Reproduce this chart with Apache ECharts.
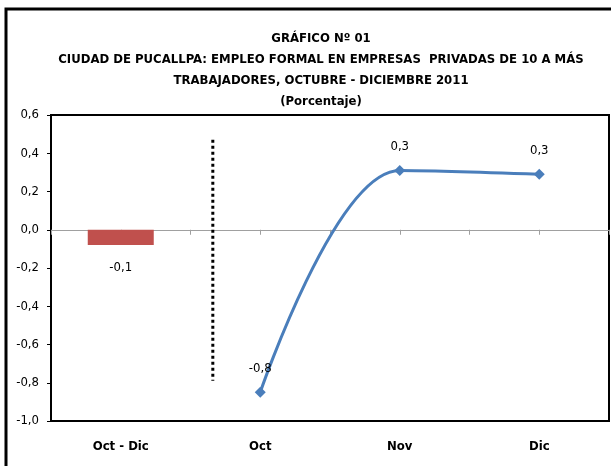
<!DOCTYPE html>
<html>
<head>
<meta charset="utf-8">
<script src="https://cdn.jsdelivr.net/npm/echarts@6/dist/echarts.min.js"></script>
<style>
  html, body { margin: 0; padding: 0; background: #fff; }
  #chart { width: 611px; height: 466px; }
</style>
</head>
<body>
<div id="chart"></div>
<script>
// datos
const categorias = ['Oct - Dic', 'Oct', 'Nov', 'Dic'];
const valoresBarra = [-0.08, null, null, null];
const valoresLinea = [null, -0.85, 0.31, 0.29];
const separadorX = [0.66, 0.66];       // posición en unidades de categoría
const separadorY = [0.47, -0.79];
const titulo = [
  'GRÁFICO Nº 01',
  'CIUDAD DE PUCALLPA: EMPLEO FORMAL EN EMPRESAS  PRIVADAS DE 10 A MÁS',
  'TRABAJADORES, OCTUBRE - DICIEMBRE 2011',
  '(Porcentaje)'
];

const fuente = '"DejaVu Sans Condensed", "Liberation Sans", Arial, sans-serif';
const coma = v => v.toFixed(1).replace('.', ',');

const chart = echarts.init(document.getElementById('chart'));

chart.setOption({
  animation: false,
  backgroundColor: '#fff',
  textStyle: { fontFamily: fuente },
  title: {
    text: titulo.join('\n'),
    left: 316,
    textAlign: 'center',
    top: 23,
    textStyle: {
      fontFamily: fuente,
      fontSize: 13,
      fontWeight: 'bold',
      color: '#000',
      lineHeight: 21
    }
  },
  graphic: [{
    type: 'rect',
    shape: { x: 6, y: 9, width: 700, height: 600 },
    style: { fill: 'none', stroke: '#000', lineWidth: 3 },
    silent: true
  }],
  grid: {
    left: 51, top: 115, right: 2, bottom: 45,
    show: true,
    borderColor: '#000',
    borderWidth: 2,
    backgroundColor: 'transparent'
  },
  xAxis: [
    {
      // categorías con etiquetas abajo
      type: 'category',
      data: categorias,
      position: 'bottom',
      axisLine: { show: false, onZero: false },
      axisTick: { show: false },
      splitLine: { show: false },
      axisLabel: {
        show: true,
        margin: 19,
        fontFamily: fuente,
        fontSize: 13,
        fontWeight: 'bold',
        color: '#000'
      }
    },
    {
      // eje auxiliar: línea gris en cero con marcas, y línea punteada
      type: 'value',
      min: -0.5, max: 3.5, interval: 0.5,
      position: 'top',
      axisLine: { show: true, onZero: true, lineStyle: { color: '#a0a0a0', width: 1 } },
      axisTick: { show: true, inside: true, length: 5, lineStyle: { color: '#a0a0a0' } },
      axisLabel: { show: false },
      splitLine: { show: false }
    }
  ],
  yAxis: {
    type: 'value',
    min: -1.0, max: 0.6, interval: 0.2,
    axisLine: { show: true, onZero: false, lineStyle: { color: '#000', width: 2 } },
    axisTick: { show: true, length: 4, lineStyle: { color: '#000' } },
    splitLine: { show: false },
    axisLabel: {
      formatter: coma,
      fontFamily: fuente,
      fontSize: 13,
      color: '#000',
      margin: 12
    }
  },
  series: [
    {
      type: 'bar',
      xAxisIndex: 0,
      data: valoresBarra,
      barWidth: 66,
      itemStyle: { color: '#c0504d' },
      label: {
        show: true,
        position: 'bottom',
        distance: 16,
        formatter: p => coma(p.value),
        fontFamily: fuente,
        fontSize: 13,
        color: '#000'
      }
    },
    {
      type: 'line',
      xAxisIndex: 0,
      data: valoresLinea,
      smooth: 0.35,
      symbol: 'diamond',
      symbolSize: 11,
      lineStyle: { color: '#4a7ebb', width: 3 },
      itemStyle: { color: '#4a7ebb' },
      label: {
        show: true,
        position: 'top',
        distance: 12,
        formatter: p => coma(p.value),
        fontFamily: fuente,
        fontSize: 13,
        color: '#000'
      }
    },
    {
      type: 'line',
      xAxisIndex: 1,
      data: separadorX.map((x, i) => [x, separadorY[i]]),
      symbol: 'none',
      lineStyle: { color: '#000', width: 3, type: [3, 3] },
      silent: true
    }
  ]
});
</script>
</body>
</html>
